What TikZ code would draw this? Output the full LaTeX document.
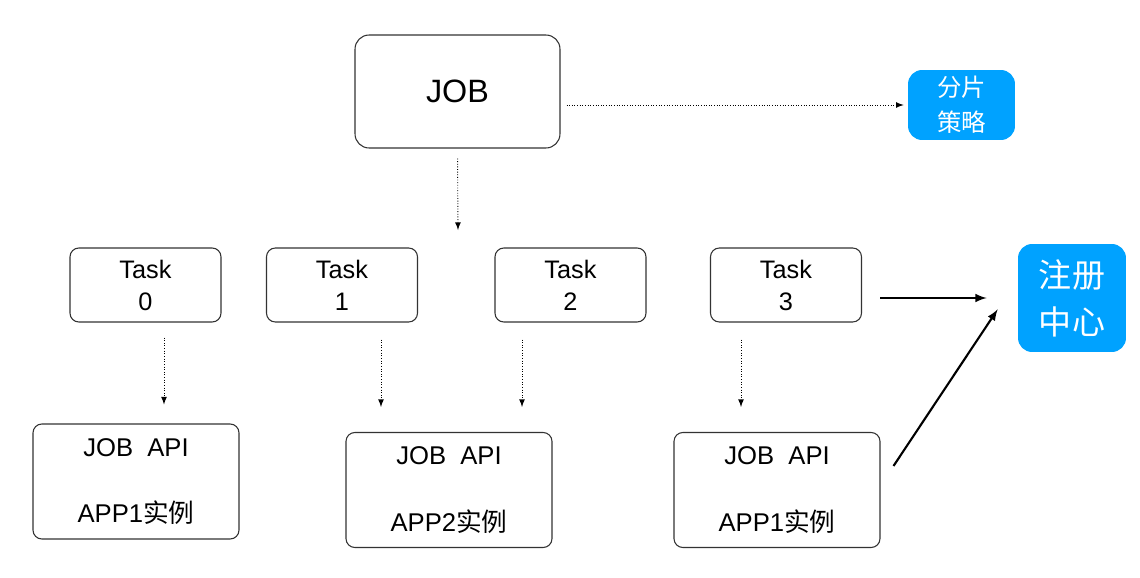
\documentclass[tikz,border=0pt]{standalone}
\usepackage{fontspec}
\setmainfont{Liberation Sans}
\newfontfamily\cjk{Noto Sans CJK SC}
\definecolor{regblue}{RGB}{0,162,255}
\begin{document}
\begin{tikzpicture}[x=0.02cm, y=-0.02cm,
        main/.style = {draw=black!80, line width=0.6pt, rounded corners=5pt, align=center, inner sep=0pt},
        task/.style = {main, minimum width=3.02cm, minimum height=1.48cm, font=\fontsize{14.4}{18.2}\selectfont},
        app/.style = {main, minimum width=4.12cm, minimum height=2.3cm, font=\fontsize{14.6}{38}\selectfont},
        hub/.style = {fill=regblue, text=white, rounded corners=8pt, align=center, inner sep=0pt},
        dots/.style = {-latex, densely dotted, line width=0.5pt},
        link/.style = {-latex, line width=1.2pt}]
        \useasboundingbox (0,0) rectangle (1140,578);
        \node[main, rounded corners=8pt, minimum width=4.1cm, minimum height=2.26cm, font=\fontsize{18.4}{22}\selectfont] (job) at (457.5,91.5) {JOB};
        \node[hub, minimum width=2.14cm, minimum height=1.4cm, font=\cjk\fontsize{13.9}{19.9}\selectfont] (split) at (961.5,105) {分片\\策略};
        \node[hub, minimum width=2.16cm, minimum height=2.16cm, font=\cjk\fontsize{18.8}{26.7}\selectfont] (reg) at (1072,298) {注册\\中心};
        \node[task] (t0) at (145.5,285) {Task\\0};
        \node[task] (t1) at (342,285) {Task\\1};
        \node[task] (t2) at (570.5,285) {Task\\2};
        \node[task] (t3) at (786,285) {Task\\3};
        \node[app] (a0) at (136,481.5) {JOB~~API\\APP1{\cjk 实例}};
        \node[app] (a1) at (449,490) {JOB~~API\\APP2{\cjk 实例}};
        \node[app] (a2) at (777,490) {JOB~~API\\APP1{\cjk 实例}};
        \coordinate (fork) at (458,230);
        \draw[dots, shorten <=0.12cm, shorten >=0.08cm] (job.east |- split.west) -- (split.west);
        \draw[dots, shorten <=0.2cm] (job.south) -- (fork);
        \draw[dots, shorten <=0.3cm, shorten >=0.38cm] ([xshift=0.37cm]t0.south) -- ([xshift=0.37cm]t0.south |- a0.north);
        \draw[dots, shorten <=0.34cm, shorten >=0.5cm] ([xshift=0.78cm]t1.south) -- ([xshift=0.78cm]t1.south |- a1.north);
        \draw[dots, shorten <=0.34cm, shorten >=0.5cm] ([xshift=-0.97cm]t2.south) -- ([xshift=-0.97cm]t2.south |- a1.north);
        \draw[dots, shorten <=0.34cm, shorten >=0.5cm] ([xshift=-0.9cm]t3.south) -- ([xshift=-0.9cm]t3.south |- a2.north);
        \draw[link, shorten <=0.36cm, shorten >=0.62cm] (t3.east |- reg.west) -- (reg.west);
        \draw[link] ([xshift=0.26cm, yshift=-0.68cm]a2.north east) -- ([xshift=-0.4cm, yshift=0.86cm]reg.south west);
    \end{tikzpicture}
\end{document}
